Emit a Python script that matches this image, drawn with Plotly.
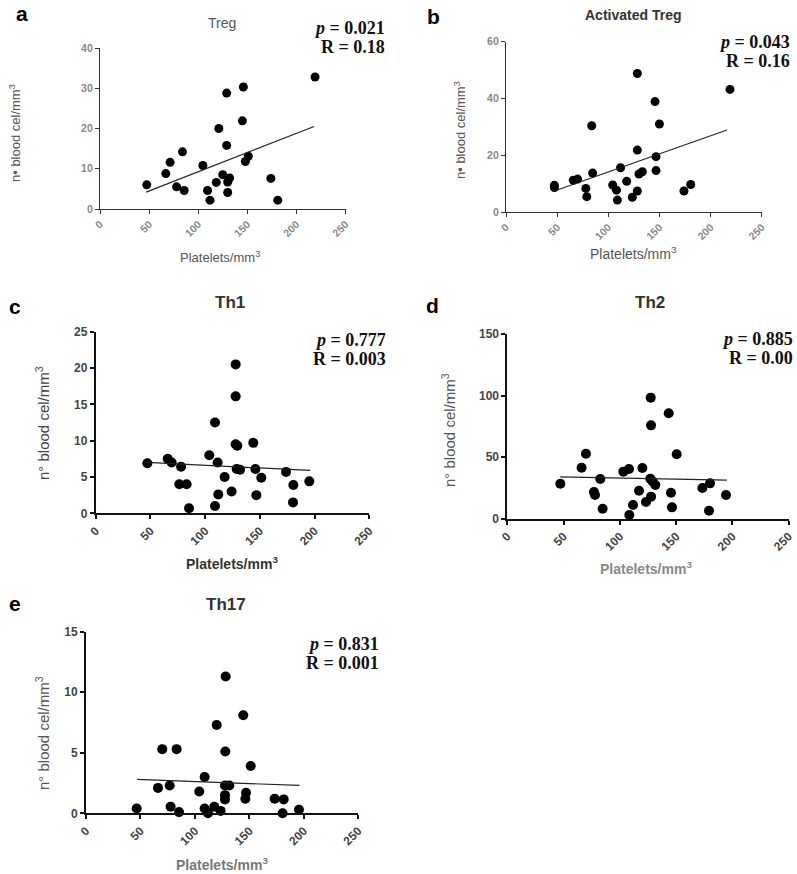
import plotly.graph_objects as go

W, H = 797, 874

# ---------------- data ----------------
treg_x = [47.6, 67, 71.4, 84, 78, 85.7, 104.8, 109.5, 112, 118.4, 121, 125, 129, 129, 130, 130, 132,
          145, 146, 148, 151, 174, 181, 219]
treg_y = [6.0, 8.8, 11.6, 14.2, 5.5, 4.6, 10.8, 4.6, 2.2, 6.6, 20.0, 8.5, 28.8, 15.8, 4.1, 6.7, 7.7,
          21.9, 30.3, 11.8, 13.1, 7.6, 2.2, 32.8]
treg_fit_x = [47, 218]
treg_fit_y = [4.2, 20.5]

atreg_x = [47.3, 47.3, 65.8, 70, 78, 79, 83.8, 84.7, 104.3, 108, 108.9, 112, 118, 123.5, 128.4, 128.4,
           128.4, 130, 133.3, 145.7, 146.7, 146.7, 150, 174, 180.6, 219]
atreg_y = [9.4, 8.6, 11.2, 11.6, 8.3, 5.4, 30.4, 13.7, 9.5, 7.7, 4.2, 15.6, 10.8, 5.2, 48.8, 21.8,
           7.4, 13.4, 14.2, 38.9, 19.5, 14.6, 31.0, 7.4, 9.7, 43.2]
atreg_fit_x = [48, 216]
atreg_fit_y = [7.5, 28.9]

th1_x = [47.2, 65.8, 69.4, 78, 76.4, 83.1, 85.3, 103.8, 109, 109, 112, 111.4, 117.8, 124.2, 127.9,
         127.9, 127.9, 129.4, 128.8, 131.9, 144, 145.9, 146.8, 151.3, 173.9, 180.6, 180.3, 195.2]
th1_y = [6.9, 7.5, 7.0, 6.4, 4.0, 4.0, 0.7, 8.0, 12.5, 1.0, 2.6, 7.0, 5.0, 3.0, 20.5,
         16.1, 9.5, 9.3, 6.1, 6.0, 9.7, 6.1, 2.5, 4.9, 5.7, 3.9, 1.5, 4.4]
th1_fit_x = [47, 196]
th1_fit_y = [7.0, 5.9]

th2_x = [47.1, 66, 69.9, 77, 77.9, 82.6, 84.7, 103.1, 108.1, 108.4, 111.7, 117, 120, 123.2, 127.4,
         127.7, 127.1, 127.7, 129.1, 131.5, 143.4, 145.4, 146.3, 150.5, 173.3, 180.1, 179.2, 194.3]
th2_y = [28.4, 41.4, 52.8, 21.7, 19.2, 32.2, 8.1, 38.2, 40.3, 3.0, 11.1, 22.7, 41.2, 13.5, 98.3,
         75.8, 32.5, 17.9, 30.3, 27.3, 85.6, 21.1, 9.2, 52.3, 24.9, 28.7, 6.5, 19.2]
th2_fit_x = [47, 195]
th2_fit_y = [34.0, 31.4]

th17_x = [46.5, 66.1, 70, 76.8, 77.7, 83.2, 85.4, 104, 108.9, 108.9, 112, 117.8, 120, 123.6, 128.2,
          127.9, 127.6, 127.6, 127.6, 131.6, 144.4, 146.9, 146.3, 151.2, 173.2, 181.5, 180.5, 195.5]
th17_y = [0.4, 2.1, 5.3, 2.3, 0.55, 5.3, 0.1, 1.8, 3.0, 0.4, 0.0, 0.55, 7.3, 0.2, 11.3,
          5.1, 2.3, 1.5, 1.15, 2.3, 8.1, 1.7, 1.2, 3.9, 1.2, 1.15, 0.0, 0.3]
th17_fit_x = [47, 196]
th17_fit_y = [2.8, 2.3]

x_ticks = [0, 50, 100, 150, 200, 250]
panel_titles = ["Treg", "Activated Treg", "Th1", "Th2", "Th17"]
panel_letters = ["a", "b", "c", "d", "e"]
p_values = ["0.021", "0.043", "0.777", "0.885", "0.831"]
r_values = ["0.18", "0.16", "0.003", "0.00", "0.001"]
y_maxes = [40, 60, 25, 150, 15]
y_dticks = [10, 20, 5, 50, 5]

# ---------------- layout geometry (pixels) ----------------
boxes = [  # (left, right, top, bottom) of each plotting area
    (100, 345.5, 48, 209),
    (506, 761.7, 41.7, 212),
    (95.7, 369.3, 331.7, 513.3),
    (507.3, 788.7, 334, 518.7),
    (86, 358.3, 631.7, 813.3),
]


def px(x):
    return x / W


def py(y):
    return 1 - y / H


series = [
    (treg_x, treg_y, treg_fit_x, treg_fit_y),
    (atreg_x, atreg_y, atreg_fit_x, atreg_fit_y),
    (th1_x, th1_y, th1_fit_x, th1_fit_y),
    (th2_x, th2_y, th2_fit_x, th2_fit_y),
    (th17_x, th17_y, th17_fit_x, th17_fit_y),
]

fig = go.Figure()
layout = {}
annotations = []

for i, (sx, sy, fx, fy) in enumerate(series):
    n = i + 1
    xa = "x" if n == 1 else f"x{n}"
    ya = "y" if n == 1 else f"y{n}"
    small = i < 2
    msize = 9 if small else 10
    fig.add_trace(go.Scatter(x=sx, y=sy, mode="markers", xaxis=xa, yaxis=ya,
                             marker=dict(color="black", size=msize), cliponaxis=False,
                             showlegend=False))
    fig.add_trace(go.Scatter(x=fx, y=fy, mode="lines", xaxis=xa, yaxis=ya,
                             line=dict(color="#222", width=1.2), cliponaxis=False,
                             showlegend=False))
    l, r, t, b = boxes[i]
    tickfont = dict(family="Liberation Sans, Arial", size=10.5 if small else 12,
                    color="#888" if small else "#444", weight="bold")
    axcol = "#333" if small else "#111"
    lw = 1.3 if small else 1.8
    layout["xaxis" if n == 1 else f"xaxis{n}"] = dict(
        domain=[px(l), px(r)], anchor=ya, range=[0, 250], tickvals=x_ticks,
        tickangle=-45, ticks="outside", ticklen=4, tickwidth=lw, tickcolor=axcol,
        showline=True, linecolor=axcol, linewidth=lw, showgrid=False, zeroline=False,
        tickfont=tickfont, automargin=False,
    )
    layout["yaxis" if n == 1 else f"yaxis{n}"] = dict(
        domain=[py(b), py(t)], anchor=xa, range=[0, y_maxes[i]], dtick=y_dticks[i],
        ticks="outside", ticklen=4, tickwidth=lw, tickcolor=axcol,
        showline=True, linecolor=axcol, linewidth=lw, showgrid=False, zeroline=False,
        tickfont=tickfont, automargin=False,
    )

# ---------------- text ----------------
letter_pos = [(22, 14), (433, 16), (15, 307), (432, 305), (15, 603)]
title_pos = [(222, 23), (633, 15), (230, 302), (650, 302), (226, 604)]
title_style = [
    dict(size=14, color="#555", weight="normal"),
    dict(size=14, color="#333", weight="bold"),
    dict(size=17, color="#333", weight="bold"),
    dict(size=17, color="#333", weight="bold"),
    dict(size=17, color="#333", weight="bold"),
]
stat_pos = [(387, 28, 47), (792, 42, 61), (388, 340, 359), (795, 339, 358), (381, 644, 663)]
ytitle_pos = [(15, 133), (460, 130), (43, 423), (448, 430), (42, 733)]
ytitle_text = ["n• blood cel/mm<sup>3</sup>", "n• blood cel/mm<sup>3</sup>",
               "n° blood cel/mm<sup>3</sup>", "n° blood cel/mm<sup>3</sup>",
               "n° blood cel/mm<sup>3</sup>"]
xtitle_pos = [(220, 257), (633, 253), (232, 563), (646, 568), (222, 864)]
xtitle_style = [
    dict(size=13, color="#555"),
    dict(size=14, color="#555"),
    dict(size=14, color="#333", weight="bold"),
    dict(size=14, color="#888", weight="bold"),
    dict(size=14, color="#777", weight="bold"),
]
ytitle_style = [
    dict(size=13, color="#555"),
    dict(size=13, color="#555"),
    dict(size=15, color="#444"),
    dict(size=15, color="#555"),
    dict(size=15, color="#555"),
]

for i in range(5):
    lx, ly = letter_pos[i]
    annotations.append(dict(x=px(lx), y=py(ly), xref="paper", yref="paper", showarrow=False,
                            text=panel_letters[i], xanchor="center", yanchor="middle",
                            font=dict(family="Liberation Sans, Arial", size=21, color="black",
                                      weight="bold")))
    tx, ty = title_pos[i]
    annotations.append(dict(x=px(tx), y=py(ty), xref="paper", yref="paper", showarrow=False,
                            text=panel_titles[i], xanchor="center", yanchor="middle",
                            font=dict(family="Liberation Sans, Arial", **title_style[i])))
    sxp, spy, sry = stat_pos[i]
    annotations.append(dict(x=px(sxp), y=py(spy), xref="paper", yref="paper", showarrow=False,
                            text=f"<b><i>p</i> = {p_values[i]}</b>", xanchor="right",
                            yanchor="middle",
                            font=dict(family="Liberation Serif, Times New Roman", size=18,
                                      color="#111")))
    annotations.append(dict(x=px(sxp), y=py(sry), xref="paper", yref="paper", showarrow=False,
                            text=f"<b>R = {r_values[i]}</b>", xanchor="right", yanchor="middle",
                            font=dict(family="Liberation Serif, Times New Roman", size=18,
                                      color="#111")))
    yx, yy = ytitle_pos[i]
    annotations.append(dict(x=px(yx), y=py(yy), xref="paper", yref="paper", showarrow=False,
                            text=ytitle_text[i], textangle=-90, xanchor="center",
                            yanchor="middle",
                            font=dict(family="Liberation Sans, Arial", **ytitle_style[i])))
    xx, xy = xtitle_pos[i]
    annotations.append(dict(x=px(xx), y=py(xy), xref="paper", yref="paper", showarrow=False,
                            text="Platelets/mm<sup>3</sup>", xanchor="center", yanchor="middle",
                            font=dict(family="Liberation Sans, Arial", **xtitle_style[i])))

fig.update_layout(
    width=W, height=H, margin=dict(l=0, r=0, t=0, b=0, autoexpand=False),
    paper_bgcolor="white", plot_bgcolor="white",
    annotations=annotations, showlegend=False,
    **layout,
)

# remove the default 8px page margin so the figure fills the window exactly
fig.write_html("out.html", config={"displayModeBar": False},
               post_script="document.body.style.margin='0';document.body.style.overflow='hidden';")
